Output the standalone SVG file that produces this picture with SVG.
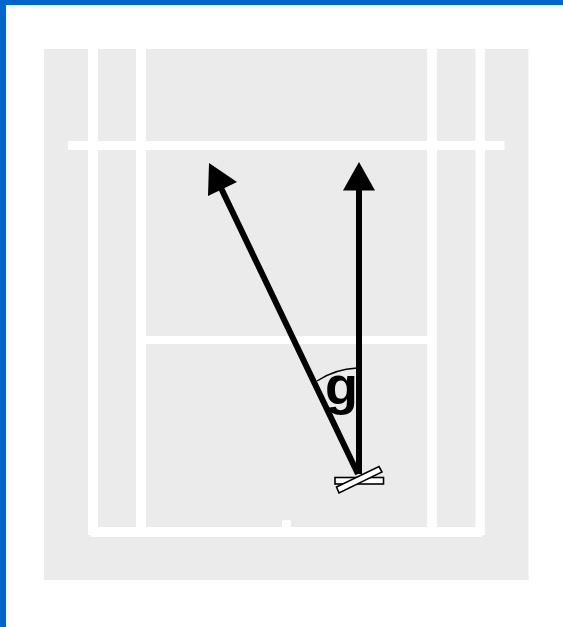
<svg xmlns="http://www.w3.org/2000/svg" width="563" height="627" viewBox="0 0 563 627">
<style>
.court{fill:#fff}
.shaft{stroke:#000;stroke-width:6;fill:none}
.head{fill:#000}
.bar{fill:#fff;stroke:#000;stroke-width:1.6}
</style>
<rect width="563" height="627" fill="#fff"/>
<rect x="0" y="0" width="563" height="5" fill="#0066cc"/>
<rect x="0" y="0" width="6" height="627" fill="#0066cc"/>
<rect id="court" x="44" y="49" width="484.500" height="531" fill="#ebebeb"/>
<g id="lines" class="court">
<rect x="88" y="49" width="10" height="486"/>
<rect x="136" y="49" width="10" height="483"/>
<rect x="427" y="49" width="10" height="483"/>
<rect x="475.500" y="49" width="9.500" height="486"/>
<rect x="68" y="141" width="436.500" height="9"/>
<rect x="146" y="336" width="281" height="8"/>
<path d="M88 527H485V533L481 537H92L88 533Z"/>
<rect x="282" y="520" width="9" height="8" rx="2"/>
</g>
<g id="connectors">
<path class="shaft" d="M359 474V188"/>
<path class="shaft" d="M358 474L221 188"/>
<path d="M317 381Q335 369 357 368" fill="none" stroke="#000" stroke-width="1.300"/>
</g>
<g id="arrowheads">
<polygon class="head" points="359,162 375,190.500 343,190.500"/>
<polygon class="head" points="209,163 237,182 208,196"/>
</g>
<g id="marker">
<rect class="bar" x="335" y="477.500" width="48.500" height="6.500"/>
<polygon class="bar" points="336.500,487 379,466.500 382,472 339,493"/>
</g>
<text id="label" x="325" y="404" font-family="'Liberation Sans',Arial,sans-serif" font-weight="700" font-size="54" fill="#000">g</text>
</svg>
